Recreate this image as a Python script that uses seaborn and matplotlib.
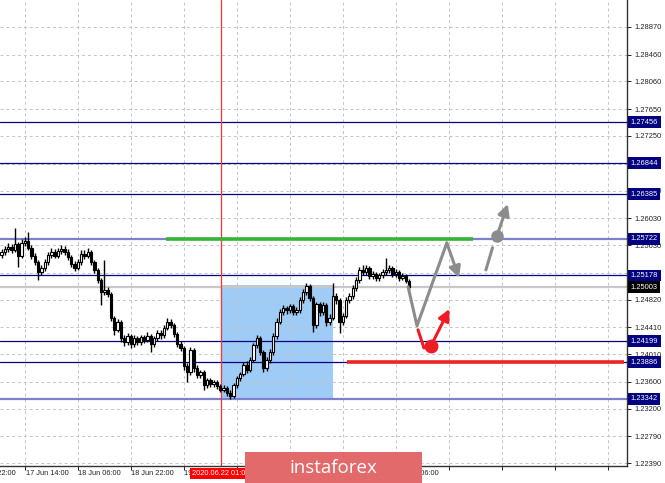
import numpy as np
import matplotlib
matplotlib.use("Agg")
import matplotlib.pyplot as plt
import seaborn as sns
from matplotlib.patches import Rectangle

# --- DATA (H1 bars) ---
first_open = 1.2548
closes = [
    1.2552, 1.2557, 1.2560, 1.2556, 1.2564, 1.2547, 1.2566, 1.2569, 1.2559, 1.2547,
    1.2538, 1.2523, 1.2529, 1.2538, 1.2548, 1.2553, 1.2547, 1.2554, 1.2557, 1.2553,
    1.2545, 1.2535, 1.2529, 1.2538, 1.2550, 1.2547, 1.2552, 1.2538, 1.2526, 1.2511,
    1.2493, 1.2496, 1.2490, 1.2455, 1.2437, 1.2449, 1.2425, 1.2419, 1.2428, 1.2416,
    1.2425, 1.2419, 1.2426, 1.2422, 1.2428, 1.2416, 1.2425, 1.2432, 1.2429, 1.2440,
    1.2449, 1.2444, 1.2431, 1.2416, 1.2410, 1.2383, 1.2374, 1.2407, 1.2380, 1.2370,
    1.2374, 1.2355, 1.2362, 1.2356, 1.2359, 1.2353, 1.2348, 1.2351, 1.2343, 1.2339,
    1.2355, 1.2365, 1.2371, 1.2385, 1.2377, 1.2392, 1.2414, 1.2425, 1.2404, 1.2380,
    1.2392, 1.2404, 1.2428, 1.2449, 1.2463, 1.2469, 1.2466, 1.2472, 1.2463, 1.2466,
    1.2481, 1.2493, 1.2502, 1.2484, 1.2444, 1.2475, 1.2463, 1.2474, 1.2449, 1.2455,
    1.2487, 1.2481, 1.2449, 1.2458, 1.2481, 1.2487, 1.2499, 1.2511, 1.2526, 1.2523,
    1.2529, 1.2517, 1.2520, 1.2514, 1.2518, 1.2523, 1.2526, 1.2529, 1.2520, 1.2523,
    1.2514, 1.2517, 1.2510, 1.2500,
]
highs = [
    1.2557, 1.2562, 1.2566, 1.2565, 1.2588, 1.2568, 1.2572, 1.2575, 1.2582, 1.2563,
    1.2551, 1.2541, 1.2533, 1.2542, 1.2553, 1.2559, 1.2557, 1.2558, 1.2563, 1.2561,
    1.2557, 1.2548, 1.2539, 1.2542, 1.2556, 1.2555, 1.2558, 1.2555, 1.2541, 1.2529,
    1.2514, 1.2541, 1.2500, 1.2493, 1.2458, 1.2453, 1.2452, 1.2430, 1.2432, 1.2431,
    1.2429, 1.2428, 1.2430, 1.2429, 1.2433, 1.2431, 1.2428, 1.2436, 1.2437, 1.2444,
    1.2455, 1.2453, 1.2447, 1.2434, 1.2420, 1.2413, 1.2387, 1.2411, 1.2410, 1.2384,
    1.2378, 1.2377, 1.2366, 1.2365, 1.2363, 1.2362, 1.2357, 1.2355, 1.2354, 1.2347,
    1.2358, 1.2369, 1.2375, 1.2389, 1.2390, 1.2396, 1.2418, 1.2430, 1.2428, 1.2407,
    1.2396, 1.2408, 1.2432, 1.2454, 1.2468, 1.2474, 1.2473, 1.2476, 1.2475, 1.2471,
    1.2485, 1.2497, 1.2506, 1.2505, 1.2487, 1.2479, 1.2478, 1.2478, 1.2477, 1.2460,
    1.2507, 1.2492, 1.2484, 1.2462, 1.2485, 1.2491, 1.2503, 1.2515, 1.2531, 1.2533,
    1.2534, 1.2532, 1.2525, 1.2523, 1.2522, 1.2527, 1.2544, 1.2533, 1.2532, 1.2527,
    1.2526, 1.2521, 1.2520, 1.2513,
]
lows = [
    1.2544, 1.2548, 1.2553, 1.2551, 1.2552, 1.2531, 1.2543, 1.2561, 1.2555, 1.2542,
    1.2533, 1.2511, 1.2518, 1.2525, 1.2534, 1.2544, 1.2543, 1.2543, 1.2550, 1.2548,
    1.2541, 1.2530, 1.2524, 1.2526, 1.2534, 1.2542, 1.2544, 1.2534, 1.2521, 1.2506,
    1.2474, 1.2488, 1.2486, 1.2450, 1.2430, 1.2433, 1.2419, 1.2413, 1.2414, 1.2410,
    1.2412, 1.2414, 1.2415, 1.2418, 1.2419, 1.2404, 1.2411, 1.2421, 1.2424, 1.2425,
    1.2436, 1.2439, 1.2427, 1.2412, 1.2405, 1.2378, 1.2359, 1.2370, 1.2375, 1.2366,
    1.2365, 1.2348, 1.2351, 1.2352, 1.2352, 1.2349, 1.2344, 1.2344, 1.2339, 1.2334,
    1.2336, 1.2351, 1.2361, 1.2368, 1.2373, 1.2374, 1.2389, 1.2410, 1.2400, 1.2374,
    1.2376, 1.2388, 1.2400, 1.2424, 1.2445, 1.2459, 1.2461, 1.2462, 1.2459, 1.2459,
    1.2462, 1.2477, 1.2488, 1.2480, 1.2434, 1.2440, 1.2458, 1.2459, 1.2443, 1.2444,
    1.2451, 1.2476, 1.2432, 1.2444, 1.2454, 1.2477, 1.2483, 1.2495, 1.2507, 1.2518,
    1.2519, 1.2513, 1.2513, 1.2510, 1.2510, 1.2514, 1.2519, 1.2522, 1.2516, 1.2516,
    1.2510, 1.2511, 1.2506, 1.2496,
]

levels = [1.27456, 1.26844, 1.26385, 1.25722, 1.25178, 1.24199, 1.23886, 1.23342]
soft_levels = [1.25722, 1.23342]
current_price = 1.25003

price_ticks = [1.22390, 1.22790, 1.23200, 1.23600, 1.24010, 1.24410, 1.24820, 1.25220,
               1.25630, 1.26030, 1.26440, 1.26840, 1.27250, 1.27650, 1.28060, 1.28460, 1.28870]
hidden_price_labels = [1.25220, 1.26840]   # fully covered by level tags
time_ticks = [7, 23, 39, 55, 71, 87, 103, 119, 135, 151, 167, 183]
# labels that show on the strip (others sit under the marker tag / banner)
label_ticks = [-9, 7, 23, 39, 55, 119]
time_labels = ["16 Jun 22:00", "17 Jun 14:00", "18 Jun 06:00", "18 Jun 22:00",
               "19 Jun 14:00", "24 Jun 06:00"]
marker_bar = 66
marker_label = "2020.06.22 01:00"

# forecast drawings (bar, price)
zone = (66.2, 100.0, 1.2333, 1.2504)
green_seg = (49.6, 142.3, 1.25722)
red_seg = (104.3, 187.9, 1.23886)
gray_path_x = [122.7, 125.4, 134.4]
gray_path_y = [1.2501, 1.2443, 1.2566]
gray_tip = (138.1, 1.2514)
gray_dash_x = [146.2, 148.2]
gray_dash_y = [1.2526, 1.2559]
gray_dot = (149.5, 1.2576)
gray_tip2 = (152.8, 1.2624)
red_leg_x = [125.7, 127.5]
red_leg_y = [1.2437, 1.2410]
red_dot = (129.6, 1.2413)
red_tip = (135.2, 1.2468)

# --- PLOT ---
sns.set_theme(style="white", rc={"axes.axisbelow": True})
plt.rcParams['font.family'] = ['Liberation Sans', 'DejaVu Sans']

W, H = 665, 483
fig = plt.figure(figsize=(W / 100, H / 100), dpi=100)
ax = fig.add_axes([0, 17 / H, 627 / W, 466 / H])
ax.set_facecolor("white")

opens = [first_open] + closes[:-1]
x = np.arange(len(closes))
o = np.array(opens)
c = np.array(closes)

ax.add_patch(Rectangle((zone[0], zone[2]), zone[1] - zone[0], zone[3] - zone[2],
                       facecolor="#9fccf7", edgecolor="none", zorder=0.2))

for lv in levels:
    if lv in soft_levels:
        ax.axhline(lv, color="#7f7fcf", lw=1.6, zorder=1)
    else:
        ax.axhline(lv, color="#000080", lw=0.9, zorder=1)
ax.axhline(current_price, color="#c8c8c8", lw=1.6, zorder=0.9)
ax.axvline(marker_bar + 0.2, color="#ff3030", lw=0.9, zorder=1.1)

# candles
ax.vlines(x, lows, highs, color="black", lw=1.0, zorder=2)
bull = c >= o
body = np.maximum(np.abs(c - o), 0.00008)
ax.bar(x[bull], body[bull], bottom=np.minimum(o, c)[bull], width=0.72,
       color="white", edgecolor="black", linewidth=0.8, zorder=3)
ax.bar(x[~bull], body[~bull], bottom=np.minimum(o, c)[~bull], width=0.72,
       color="black", edgecolor="black", linewidth=0.8, zorder=3)

# forecast lines
ax.plot(green_seg[:2], [green_seg[2]] * 2, color="#35b535", lw=2.6, solid_capstyle="butt", zorder=4)
ax.plot(red_seg[:2], [red_seg[2]] * 2, color="#ee2424", lw=2.6, solid_capstyle="butt", zorder=4)

gray = "#8c8c8c"
arrow = dict(arrowstyle="-|>", lw=2.2, mutation_scale=17, shrinkA=0, shrinkB=0)
ax.plot(gray_path_x, gray_path_y, color=gray, lw=2.2, zorder=5, solid_capstyle="round")
ax.annotate("", xy=gray_tip, xytext=(gray_path_x[-1], gray_path_y[-1]),
            arrowprops=dict(arrow, color=gray), zorder=5)
ax.plot(gray_dash_x, gray_dash_y, color=gray, lw=2.2, zorder=5)
ax.annotate("", xy=gray_tip2, xytext=gray_dot,
            arrowprops=dict(arrow, color=gray), zorder=5)
ax.plot(*gray_dot, "o", color=gray, ms=8, zorder=6)

red = "#ee1c24"
ax.plot(red_leg_x, red_leg_y, color=red, lw=2.2, zorder=5)
ax.annotate("", xy=red_tip, xytext=red_dot,
            arrowprops=dict(arrow, color=red), zorder=5)
ax.plot(*red_dot, "o", color=red, ms=9, zorder=6)

# axes
ax.set_xlim(-0.5, 188.8)
ax.set_ylim(1.22346, 1.29271)
ax.yaxis.tick_right()
ax.set_yticks(price_ticks)
ax.set_yticklabels(["" if p in hidden_price_labels else f"{p:.5f}" for p in price_ticks])
ax.set_xticks(time_ticks)
ax.set_xticklabels([""] * len(time_ticks))
ax.tick_params(axis="y", which="major", direction="out", length=3, width=0.7,
               color="#222222", labelsize=5.4, labelcolor="#222222", pad=2, right=True, left=False)
ax.tick_params(axis="x", which="major", direction="out", length=3, width=0.7,
               color="#222222", bottom=True)
ax.grid(True, color="#c4c4c4", lw=0.7, linestyle=(0, (3, 3)))
for side in ["top", "left"]:
    ax.spines[side].set_visible(False)
for side in ["right", "bottom"]:
    ax.spines[side].set_color("#333333")
    ax.spines[side].set_linewidth(1.0)

xt = ax.get_xaxis_transform()
yt = ax.get_yaxis_transform()
for t, lab in zip(label_ticks, time_labels):
    ax.text(t + 0.2, -0.0165, lab, transform=xt, fontsize=5.3, color="#222222",
            ha="left", va="center", clip_on=False)
ax.text(marker_bar + 0.2, -0.0165, marker_label, transform=xt, fontsize=5.3, color="white",
        ha="center", va="center", clip_on=False, zorder=10,
        bbox=dict(boxstyle="square,pad=0.3", fc="#ff0000", ec="none"))

for lv in levels:
    ax.text(1.006, lv, f"{lv:.5f}", transform=yt, fontsize=5.4, color="white",
            ha="left", va="center", clip_on=False, zorder=10,
            bbox=dict(boxstyle="square,pad=0.32", fc="#000080", ec="none"))
ax.text(1.006, current_price, f"{current_price:.5f}", transform=yt, fontsize=5.4, color="white",
        ha="left", va="center", clip_on=False, zorder=10,
        bbox=dict(boxstyle="square,pad=0.32", fc="black", ec="none"))

# watermark banner
fig.patches.append(Rectangle((245 / W, 0), 177 / W, 31 / H, transform=fig.transFigure,
                             facecolor="#e26a6a", edgecolor="none", zorder=20))
fig.text(333 / W, 15 / H, "instaforex", color="white", fontsize=13.5,
         family=["Open Sans", "DejaVu Sans"], ha="center", va="center", zorder=21)

fig.savefig("out.png", dpi=100)
